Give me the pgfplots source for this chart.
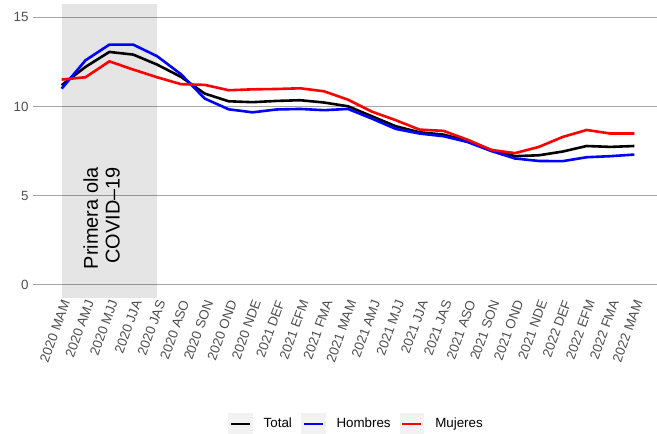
\documentclass[border=0pt]{standalone}
\usepackage{pgfplots}
\pgfplotsset{compat=1.18}
\usepackage{fontspec}
\setmainfont{Liberation Sans}
\definecolor{gridc}{RGB}{165,165,165}
\definecolor{tickc}{RGB}{77,77,77}
\definecolor{keyc}{RGB}{242,242,242}
\begin{document}
\begin{tikzpicture}
  \begin{axis}[
      scale only axis,
      width=624bp, height=294bp,
      xmin=-1.2, xmax=24.95,
      ymin=-0.75, ymax=15.75,
      axis line style={draw=none},
      ytick={0,5,10,15},
      ymajorgrids,
      grid style={gridc, line width=0.8bp},
      major tick length=0pt,
      xtick={0,...,24},
      xticklabels={2020 MAM,2020 AMJ,2020 MJJ,2020 JJA,2020 JAS,2020 ASO,2020 SON,2020 OND,2020 NDE,2021 DEF,2021 EFM,2021 FMA,2021 MAM,2021 AMJ,2021 MJJ,2021 JJA,2021 JAS,2021 ASO,2021 SON,2021 OND,2021 NDE,2022 DEF,2022 EFM,2022 FMA,2022 MAM},
      /pgf/number format/assume math mode=true,
      ticklabel style={font=\fontsize{13.4}{15}\selectfont, text=tickc},
      xticklabel style={rotate=70, anchor=east, yshift=-5bp, inner sep=1bp},
      yticklabel style={xshift=-1bp},
      legend columns=3,
      legend style={at={(0.5175,-0.428)}, anchor=center, draw=none, fill=none,
                    font=\fontsize{13.4}{15}\selectfont,
                    /tikz/every odd column/.style={column sep=10bp},
                    /tikz/every even column/.style={column sep=8bp},
                    nodes={inner sep=1bp}},
      legend cell align=left,
      legend image code/.code={%
        \fill[keyc] (0bp,-10bp) rectangle (22bp,10bp);
        \draw[#1] (1.5bp,0bp) -- (20.5bp,0bp);},
    ]
    \addplot[draw=none, fill=black, fill opacity=0.1, forget plot]
      coordinates {(0,-0.75) (4,-0.75) (4,15.75) (0,15.75)} -- cycle;
    \addplot[black, line width=2.6bp] coordinates {
      (0,11.19) (1,12.22) (2,13.06) (3,12.91) (4,12.35) (5,11.66) (6,10.72)
      (7,10.29) (8,10.24) (9,10.31) (10,10.35) (11,10.22) (12,10.01) (13,9.45)
      (14,8.89) (15,8.55) (16,8.42) (17,8.07) (18,7.56) (19,7.21) (20,7.26)
      (21,7.47) (22,7.78) (23,7.73) (24,7.78)};
    \addlegendentry{Total}
    \addplot[blue, line width=2.6bp] coordinates {
      (0,11.00) (1,12.59) (2,13.47) (3,13.47) (4,12.82) (5,11.81) (6,10.44)
      (7,9.84) (8,9.67) (9,9.83) (10,9.86) (11,9.79) (12,9.86) (13,9.32)
      (14,8.74) (15,8.48) (16,8.33) (17,8.01) (18,7.50) (19,7.08) (20,6.94)
      (21,6.93) (22,7.15) (23,7.21) (24,7.30)};
    \addlegendentry{Hombres}
    \addplot[red, line width=2.6bp] coordinates {
      (0,11.51) (1,11.64) (2,12.53) (3,12.07) (4,11.64) (5,11.25) (6,11.21)
      (7,10.91) (8,10.96) (9,10.98) (10,11.02) (11,10.85) (12,10.38) (13,9.71)
      (14,9.23) (15,8.70) (16,8.63) (17,8.14) (18,7.56) (19,7.38) (20,7.73)
      (21,8.29) (22,8.68) (23,8.48) (24,8.48)};
    \addlegendentry{Mujeres}
    \node[rotate=90, anchor=south east, align=right, inner sep=0pt,
          font=\fontsize{20}{22}\selectfont]
      at (axis cs:2.45,6.6) {Primera ola\\COVID–19};
  \end{axis}
  \path (current axis.south west) ++(-33bp,-136bp) coordinate (bbA);
  \path (current axis.north east) ++(0bp,4bp) coordinate (bbB);
  \pgfresetboundingbox
  \path[use as bounding box] (bbA) rectangle (bbB);
\end{tikzpicture}
\end{document}
